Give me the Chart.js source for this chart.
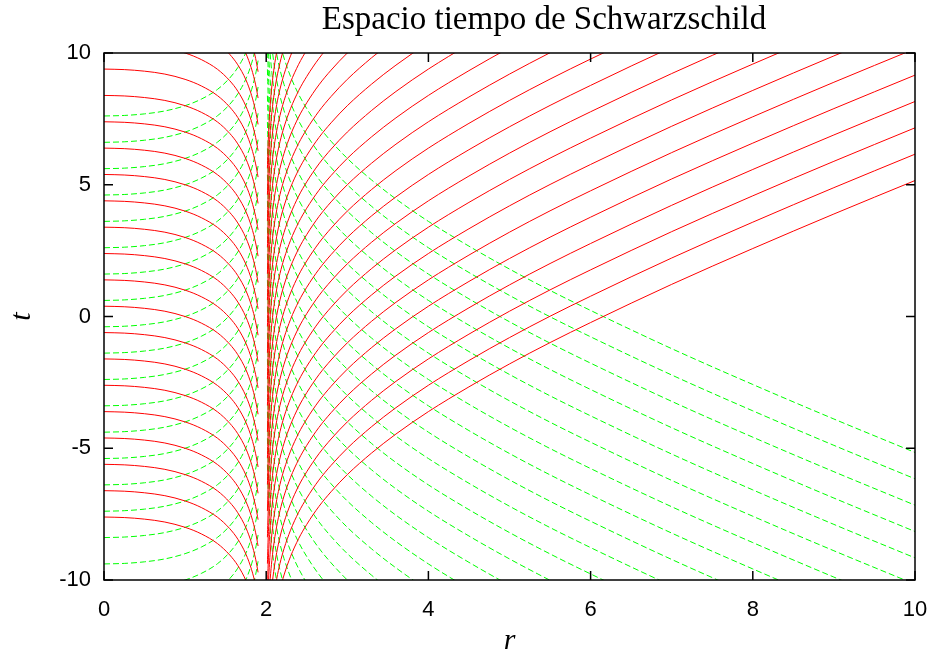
<!DOCTYPE html>
<html lang="es">

<head>
    <meta charset="UTF-8">
    <title>Espacio tiempo de Schwarzschild</title>
    <script src="https://cdn.jsdelivr.net/npm/chart.js@4.4.1/dist/chart.umd.min.js"></script>
    <style>
        html, body { margin: 0; padding: 0; background: #fff; }
        canvas { display: block; }
    </style>
</head>

<body>
    <canvas id="myChart" width="933" height="656"></canvas>
</body>

<script>
    // Null geodesic profile inside the horizon (0 <= r < 2), for the cone with offset 0
    const rInner = [0, 0.25, 0.5, 0.75, 1, 1.2, 1.4, 1.55, 1.65, 1.75, 1.82, 1.87, 1.9];
    const tInner = [1.39, 1.37, 1.31, 1.20, 1.00, 0.75, 0.38, -0.05, -0.45, -1.02, -1.61, -2.21, -2.71];

    // Same profile outside the horizon (r > 2)
    const rOuter = [2.015, 2.02, 2.03, 2.04, 2.05, 2.07, 2.1, 2.13, 2.17, 2.22, 2.3, 2.4, 2.5, 2.65, 2.8,
        3, 3.3, 3.6, 4, 4.5, 5, 5.5, 6, 7, 8, 9, 10];
    const tOuter = [-6.38, -5.80, -4.98, -4.40, -3.94, -3.25, -2.51, -1.95, -1.37, -0.81, -0.11, 0.57, 1.11, 1.79, 2.35,
        3.00, 3.82, 4.54, 5.39, 6.33, 7.20, 8.01, 8.77, 10.22, 11.58, 12.89, 14.16];

    // each ray is the profile moved up by one of these (outgoing = red, ingoing = green mirrored)
    const offsets = [-9, -8, -7, -6, -5, -4, -3, -2, -1, 0, 1, 2, 3, 4, 5, 6, 7, 8, 9, 10, 11, 12];

    const xTicks = [0, 2, 4, 6, 8, 10];
    const yTicks = [-10, -5, 0, 5, 10];

    const titleText = "Espacio tiempo de Schwarzschild";

    function ray(rs, ts, shift, sign, color, dash) {
        return {
            data: rs.map((r, i) => ({ x: r, y: sign * (ts[i] + shift) })),
            borderColor: color,
            borderWidth: 1,
            borderDash: dash,
            pointRadius: 0,
            cubicInterpolationMode: 'monotone',
            fill: false
        };
    }

    const datasets = [];
    offsets.forEach(n => {
        datasets.push(ray(rInner, tInner, n, 1, '#ff0000', []));
        datasets.push(ray(rOuter, tOuter, n, 1, '#ff0000', []));
    });
    offsets.forEach(n => {
        datasets.push(ray(rInner, tInner, n, -1, '#00ff00', [6, 3]));
        datasets.push(ray(rOuter, tOuter, n, -1, '#00ff00', [6, 3]));
    });

    // box round the plot with inward ticks on all four sides, plus the title
    const frame = {
        id: 'frame',
        afterDraw(chart) {
            const { ctx, chartArea: a, scales } = chart;
            ctx.save();
            ctx.strokeStyle = '#000';
            ctx.lineWidth = 1.5;
            ctx.beginPath();
            xTicks.forEach(v => {
                const px = scales.x.getPixelForValue(v);
                ctx.moveTo(px, a.bottom); ctx.lineTo(px, a.bottom - 9);
                ctx.moveTo(px, a.top); ctx.lineTo(px, a.top + 9);
            });
            yTicks.forEach(v => {
                const py = scales.y.getPixelForValue(v);
                ctx.moveTo(a.left, py); ctx.lineTo(a.left + 9, py);
                ctx.moveTo(a.right, py); ctx.lineTo(a.right - 9, py);
            });
            ctx.stroke();
            ctx.strokeRect(a.left, a.top, a.right - a.left, a.bottom - a.top);

            ctx.fillStyle = '#000';
            ctx.font = '33px "Liberation Serif"';
            ctx.textAlign = 'center';
            ctx.textBaseline = 'alphabetic';
            ctx.fillText(titleText, 544, 29);
            ctx.restore();
        }
    };

    const ctx = document.getElementById('myChart').getContext('2d');
    const myChart = new Chart(ctx, {
        type: 'line',
        data: { datasets: datasets },
        plugins: [frame],
        options: {
            responsive: false,
            animation: false,
            devicePixelRatio: 1,
            layout: { padding: { top: 53, right: 18, left: 0, bottom: 0 } },
            plugins: {
                legend: { display: false },
                tooltip: { enabled: false }
            },
            scales: {
                x: {
                    type: 'linear',
                    min: 0,
                    max: 10,
                    // fixed axis height; the "10" label may hang over the right margin
                    afterFit: s => { s.height = 76; s.paddingRight = 0; s.paddingLeft = 0; },
                    afterBuildTicks: s => { s.ticks = xTicks.map(v => ({ value: v })); },
                    grid: { display: false },
                    border: { display: false },
                    ticks: {
                        color: '#000',
                        padding: 9,
                        maxRotation: 0,
                        font: { family: 'Liberation Sans', size: 22 }
                    },
                    title: {
                        display: true,
                        text: 'r',
                        color: '#000',
                        padding: { top: 0, bottom: 0 },
                        font: { family: 'Liberation Serif', style: 'italic', size: 30, lineHeight: 1 }
                    }
                },
                y: {
                    type: 'linear',
                    min: -10,
                    max: 10,
                    afterFit: s => { s.width = 104; },
                    afterBuildTicks: s => { s.ticks = yTicks.map(v => ({ value: v })); },
                    grid: { display: false },
                    border: { display: false },
                    ticks: {
                        color: '#000',
                        padding: 5,
                        font: { family: 'Liberation Sans', size: 22 }
                    },
                    title: {
                        display: true,
                        text: 't',
                        color: '#000',
                        padding: { top: 7, bottom: 0 },
                        font: { family: 'Liberation Serif', style: 'italic', size: 30, lineHeight: 1 }
                    }
                }
            }
        }
    });
</script>

</html>
